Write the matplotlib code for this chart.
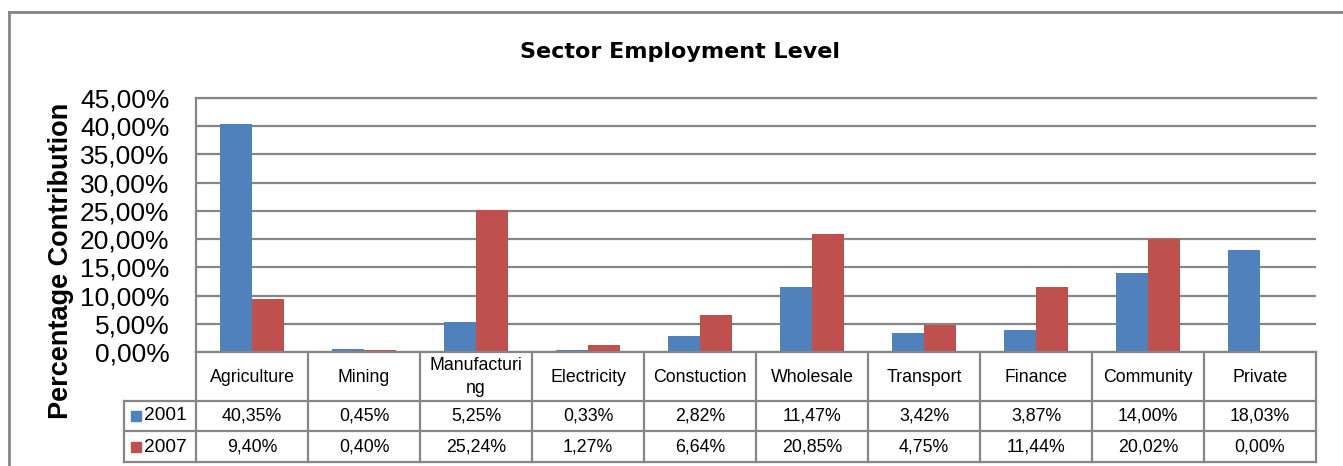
import matplotlib.pyplot as plt
from matplotlib.lines import Line2D
from matplotlib.patches import Rectangle

sectors = ["Agriculture", "Mining", "Manufacturi\nng", "Electricity", "Constuction",
           "Wholesale", "Transport", "Finance", "Community", "Private"]
years = ["2001", "2007"]
share_2001 = [40.35, 0.45, 5.25, 0.33, 2.82, 11.47, 3.42, 3.87, 14.00, 18.03]
share_2007 = [9.40, 0.40, 25.24, 1.27, 6.64, 20.85, 4.75, 11.44, 20.02, 0.00]
y_ticks = [0, 5, 10, 15, 20, 25, 30, 35, 40, 45]

colors = ["#4F81BD", "#C0504D"]
grid_col = "#868686"
W, H = 1343, 466

plt.rcParams['font.family'] = ['Liberation Sans', 'DejaVu Sans']

fig = plt.figure(figsize=(W / 100, H / 100), dpi=100)

def px_box(x0, y0, x1, y1):
    # pixel box (top-left origin) -> figure fraction rect
    return [x0 / W, 1 - y1 / H, (x1 - x0) / W, (y1 - y0) / H]

# outer chart frame
fig.add_artist(Line2D([9 / W, 1], [1 - 12 / H, 1 - 12 / H], color=grid_col, lw=2))
fig.add_artist(Line2D([9 / W, 9 / W], [0, 1 - 12 / H], color=grid_col, lw=2))

fig.text(680 / W, 1 - 52 / H, "Sector Employment Level", ha='center', va='center',
         fontsize=16, fontweight='bold', family=['DejaVu Sans'])

# bar chart
ax = fig.add_axes(px_box(196, 98, 1316, 352))
n = len(sectors)
bw = 0.286
xs = [i + 0.5 for i in range(n)]
ax.bar([x - bw / 2 for x in xs], share_2001, width=bw, color=colors[0], zorder=3)
ax.bar([x + bw / 2 for x in xs], share_2007, width=bw, color=colors[1], zorder=3)
ax.set_xlim(0, n)
ax.set_ylim(0, 45)
ax.set_yticks(y_ticks)
ax.set_yticklabels([f"{t:.2f}%".replace('.', ',') for t in y_ticks], fontsize=19)
ax.set_xticks([])
ax.tick_params(axis='y', length=0, pad=19)
ax.grid(axis='y', color=grid_col, lw=1.6, zorder=0)
for s in ['right', 'bottom']:
    ax.spines[s].set_visible(False)
ax.spines['left'].set_color(grid_col)
ax.spines['left'].set_linewidth(1.6)
ax.spines['top'].set_color(grid_col)
ax.spines['top'].set_linewidth(1.6)
ax.set_ylabel("Percentage Contribution", fontsize=19.5, fontweight='bold')
ax.yaxis.set_label_coords(-0.109, 0.36)

# data table below the bars
tb = fig.add_axes(px_box(196, 352, 1316, 462))
tb.set_xlim(0, n)
tb.set_ylim(110, 0)
tb.axis('off')
leg_x = -72 / 112
rows = [49, 79, 110]
lc = dict(color=grid_col, lw=1.6, clip_on=False)
tb.plot([0, n], [0, 0], **lc)
for y in rows:
    tb.plot([leg_x, n], [y, y], **lc)
for i in range(n + 1):
    tb.plot([i, i], [0, 110], **lc)
tb.plot([leg_x, leg_x], [49, 110], **lc)

for i, name in enumerate(sectors):
    tb.text(i + 0.5, 25, name, ha='center', va='center', fontsize=12.8, linespacing=1.45)
for vals, yc in [(share_2001, 64), (share_2007, 95)]:
    for i, v in enumerate(vals):
        tb.text(i + 0.5, yc, f"{v:.2f}%".replace('.', ','), ha='center', va='center',
                fontsize=12.8)
for yr, c, yc in zip(years, colors, [64, 95]):
    tb.add_patch(Rectangle((leg_x + 7 / 112, yc - 5), 10 / 112, 10, color=c, clip_on=False))
    tb.text(leg_x + 20 / 112, yc, yr, ha='left', va='center', fontsize=13.8)

plt.savefig("out.png", dpi=100)
